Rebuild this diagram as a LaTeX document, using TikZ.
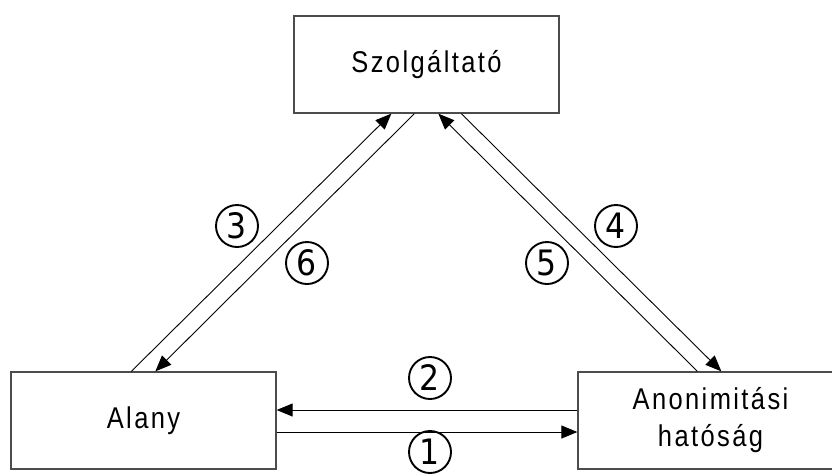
\documentclass[tikz,border=0pt]{standalone}
\usepackage{fontspec}
\setmainfont{Liberation Sans}[FakeStretch=0.85, LetterSpace=8]
\newfontfamily\digitfont{DejaVu Sans}[FakeStretch=0.9]
\usetikzlibrary{arrows.meta}

\tikzset{
  party/.style={draw=black!70, line width=1.3pt, minimum width=265pt, minimum height=97pt,
    inner sep=0pt, align=center, font=\fontsize{30}{37}\selectfont},
  msg/.style={draw=black, line width=0.9pt, -{Triangle[length=16pt,width=13pt]}},
  stepnum/.style={circle, draw=black, line width=1.9pt, minimum size=42pt, inner sep=0pt,
    font=\digitfont\fontsize{35}{35}\selectfont}
}

\begin{document}
\begin{tikzpicture}[x=1pt, y=-1pt]
  \useasboundingbox (0,0) rectangle (832,475);
  \clip (0,0) rectangle (832,475);

  % the three parties
  \node[party] (szolg) at (426.5,64.5) {Szolgáltató};
  \node[party] (alany) at (143.5,420.5) {Alany};
  \node[party] (anon)  at (710.5,420.5) {Anonimitási\\hatóság};

  % messages along the left side
  \draw[msg] ([xshift=121pt]alany.north west) -- ([xshift=98pt]szolg.south west);
  \draw[msg] ([xshift=121pt]szolg.south west) -- ([xshift=145pt]alany.north west);

  % messages along the right side
  \draw[msg] ([xshift=120pt]anon.north west) -- ([xshift=145pt]szolg.south west);
  \draw[msg] ([xshift=168pt]szolg.south west) -- ([xshift=144pt]anon.north west);

  % messages along the bottom
  \draw[msg] ([yshift=10.5pt]anon.west) -- ([yshift=10.5pt]alany.east);
  \draw[msg] ([yshift=-11.5pt]alany.east) -- ([yshift=-11.5pt]anon.west);

  % step numbers
  \node[stepnum] (n1) at (430,452) {1};
  \node[stepnum] (n2) at (430,378) {2};
  \node[stepnum] (n3) at (237,226) {3};
  \node[stepnum] (n4) at (616,226) {4};
  \node[stepnum] (n5) at (547,263) {5};
  \node[stepnum] (n6) at (307,263) {6};
\end{tikzpicture}
\end{document}
